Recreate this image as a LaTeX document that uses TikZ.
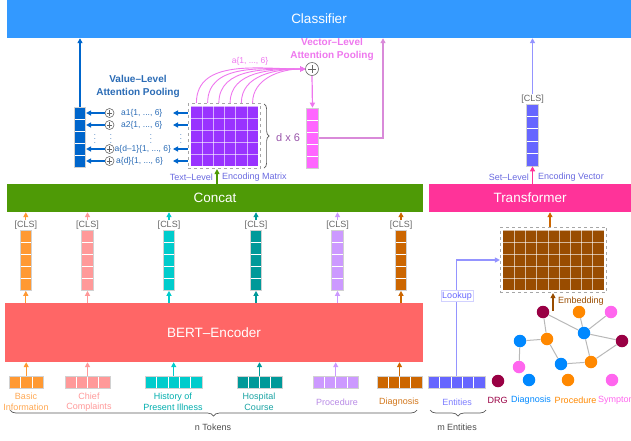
\documentclass[tikz,border=0pt]{standalone}
\usepackage{fontspec}
\setmainfont{Liberation Sans}
\usetikzlibrary{positioning,arrows.meta,calc,fit,decorations.pathreplacing}

\definecolor{clsblue}{HTML}{3399FF}
\definecolor{concatgreen}{HTML}{4E9A06}
\definecolor{transpink}{HTML}{FF3399}
\definecolor{bertred}{HTML}{FF6666}
\definecolor{basicor}{HTML}{FF9933}
\definecolor{chiefpk}{HTML}{FF9999}
\definecolor{histcy}{HTML}{00CCCC}
\definecolor{hospteal}{HTML}{009999}
\definecolor{proclil}{HTML}{CC99FF}
\definecolor{diagbr}{HTML}{CC6600}
\definecolor{entblue}{HTML}{6666FF}
\definecolor{valblue}{HTML}{0066CC}
\definecolor{valtext}{HTML}{2A6BB5}
\definecolor{matpurple}{HTML}{9933FF}
\definecolor{vecpink}{HTML}{FF66FF}
\definecolor{curvepink}{HTML}{EE77EE}
\definecolor{linkpink}{HTML}{D98AD9}
\definecolor{embbrown}{HTML}{994C00}
\definecolor{lvlblue}{HTML}{6A6AE0}
\definecolor{dxcol}{HTML}{9955AA}
\definecolor{drgred}{HTML}{990044}
\definecolor{gdiag}{HTML}{0088FF}
\definecolor{gproc}{HTML}{FF8800}
\definecolor{gsymp}{HTML}{FF66EE}

\newcommand{\smallfont}{\fontsize{9}{10.5}\selectfont}
\newcommand{\barfont}{\fontsize{13.5}{16}\selectfont}

\tikzset{
  bar/.style={inner sep=0, text=white, font=\barfont},
  vvec/.style={draw=black!18, line width=0.6pt, minimum width=11.5pt, minimum height=60pt, inner sep=0,
    path picture={\foreach \k in {1,...,4}
      \draw[white, line width=0.7pt] ($(path picture bounding box.south west)!{\k/5}!(path picture bounding box.north west)$) -- ++(20pt,0);}},
  hvec/.style={draw=black!18, line width=0.6pt, minimum width=#1*11.3pt, minimum height=12pt, inner sep=0,
    path picture={\foreach \k in {1,...,#1}
      \draw[white, line width=0.7pt] ($(path picture bounding box.south west)!{\k/#1}!(path picture bounding box.south east)$) -- ++(0,20pt);}},
  mgrid/.style 2 args={inner sep=0, path picture={
      \foreach \k in {1,...,#1}
        \draw[white, opacity=0.6, line width=0.6pt] ($(path picture bounding box.south west)!{\k/#1}!(path picture bounding box.south east)$) -- ++(0,100pt);
      \foreach \k in {1,...,#2}
        \draw[white, opacity=0.6, line width=0.6pt] ($(path picture bounding box.south west)!{\k/#2}!(path picture bounding box.north west)$) -- ++(200pt,0);}},
  dashbox/.style={draw=black!35, dashed, line width=0.8pt, inner sep=2.5pt},
  oplus/.style={circle, draw=black!60, line width=0.6pt, minimum size=#1, inner sep=0, fill=white,
    path picture={\draw[black!60, line width=0.6pt]
      ($(path picture bounding box.center)+(-0.3*#1,0)$) -- ++(0.6*#1,0)
      ($(path picture bounding box.center)+(0,-0.3*#1)$) -- ++(0,0.6*#1);}},
  cls/.style={font=\smallfont, text=black!60, inner sep=0.5pt},
  lbl/.style={font=\smallfont, align=center, inner sep=0},
  atext/.style={font=\fontsize{8.5}{10}\selectfont, text=valtext, inner sep=0},
  title/.style={font=\bfseries\fontsize{10}{13}\selectfont, align=center, inner sep=0},
  arr/.style={-{Triangle[length=5pt,width=5pt]}, line width=1.2pt},
  brc/.style={decorate, decoration={brace, amplitude=5pt}, draw=black!65, line width=0.7pt},
  brcm/.style={decorate, decoration={brace, mirror, amplitude=6pt}, draw=black!65, line width=0.7pt},
  gnode/.style={circle, fill=#1, minimum size=12.5pt, inner sep=0},
  gedge/.style={draw=black!28, line width=1pt}
}

\begin{document}
\begin{tikzpicture}[x=1pt,y=-1pt]
  \useasboundingbox (0,0) rectangle (631,440);

  % bars
  \node[bar, fill=clsblue, minimum width=624pt, minimum height=38pt] (classifier) at (319,19) {Classifier};
  \node[bar, fill=concatgreen, minimum width=416pt, minimum height=28pt] (concat) at (215,198) {Concat};
  \node[bar, fill=transpink, minimum width=202pt, minimum height=28pt] (transformer) at (530,198) {Transformer};
  \node[bar, fill=bertred, minimum width=418pt, minimum height=59pt] (bert) at (214,332.5) {BERT--Encoder};

  % text vectors
  \node[vvec, fill=basicor] (v1) at (25.8,260.5) {};
  \node[vvec, fill=chiefpk] (v2) at (87.5,260.5) {};
  \node[vvec, fill=histcy] (v3) at (169,260.5) {};
  \node[vvec, fill=hospteal] (v4) at (256,260.5) {};
  \node[vvec, fill=proclil] (v5) at (337.5,260.5) {};
  \node[vvec, fill=diagbr] (v6) at (401,260.5) {};

  \node[hvec=3, fill=basicor] (h1) at (26.2,382) {};
  \node[hvec=4, fill=chiefpk] (h2) at (87.5,382) {};
  \node[hvec=5, fill=histcy] (h3) at (173.7,382) {};
  \node[hvec=4, fill=hospteal] (h4) at (259.5,382) {};
  \node[hvec=4, fill=proclil] (h5) at (335.7,382) {};
  \node[hvec=4, fill=diagbr] (h6) at (399.5,382) {};
  \node[hvec=5, fill=entblue] (ent) at (456.7,382) {};

  \foreach \i/\c in {1/basicor,2/chiefpk,3/histcy,4/hospteal,5/proclil,6/diagbr} {
    \node[cls, above=0pt of v\i] (c\i) {[CLS]};
    \draw[arr, \c] (c\i.north) -- (c\i.north |- concat.south);
    \draw[arr, \c] (v\i.south |- bert.north) -- (v\i.south);
    \draw[arr, \c] (h\i.north) -- (h\i.north |- bert.south);
  }

  \node[lbl, text=basicor!85!white] (t1) at (26,402) {Basic\\Information};
  \node[lbl, text=chiefpk] (t2) at (89,402) {Chief\\Complaints};
  \node[lbl, text=histcy!85!black] (t3) at (173,402) {History of\\Present Illness};
  \node[lbl, text=hospteal!90!white] (t4) at (259,402) {Hospital\\Course};
  \node[lbl, text=proclil!90!black] (t5) at (337,402) {Procedure};
  \node[lbl, text=diagbr!90!white] (t6) at (399,402) {Diagnosis};
  \node[lbl, text=entblue!85!white] (t7) at (457,402) {Entities};

  % braces
  \coordinate (nl) at (10,410);
  \coordinate (nr) at (417,410);
  \draw[brcm] (nl) -- (nr);
  \node[lbl, text=black!70] (ntok) at (213,427) {n Tokens};
  \coordinate (ml) at (430,410);
  \coordinate (mr) at (486,410);
  \draw[brcm] (ml) -- (mr);
  \node[lbl, text=black!70] (ment) at (457,427) {m Entities};

  % value-level attention pooling
  \node[vvec, fill=valblue] (val) at (80,137) {};
  \draw[arr, valblue] (val.north) -- (val.north |- classifier.south);
  \node[title, text=valtext] (vtitle) at (138,86.5) {Value--Level\\Attention Pooling};

  \node[mgrid={6}{5}, fill=matpurple, minimum width=67pt, minimum height=60pt] (pmat) at (224.5,136) {};
  \node[dashbox, fit=(pmat)] (pbox) {};

  \foreach \i/\y in {1/113,2/125,4/149,5/161} {
    \node[oplus=9pt] (p\i) at (109.5,\y) {};
    \coordinate (q\i) at (173,\y);
    \draw[arr, valblue] (p\i.west) -- (p\i.west -| val.east);
    \draw[arr, valblue] (pbox.west |- q\i) -- (q\i);
  }
  \node[atext, anchor=west] (a1) at (121,113) {a1\{1, ..., 6\}};
  \node[atext, anchor=west] (a2) at (121,125) {a2\{1, ..., 6\}};
  \node[atext, anchor=west] (a4) at (114.5,149) {a\{d--1\}\{1, ..., 6\}};
  \node[atext, anchor=west] (a5) at (116,161) {a\{d\}\{1, ..., 6\}};
  \foreach \x [count=\n] in {95,111,151,181}
    \node[atext, font=\fontsize{7.5}{7.5}\selectfont] (dot\n) at (\x,136) {$\vdots$};

  \coordinate (db1) at ($(pbox.north east)+(3,1)$);
  \coordinate (db2) at ($(pbox.south east)+(3,-1)$);
  \draw[brc] (db1) -- (db2);
  \node[font=\fontsize{11}{13}\selectfont, text=dxcol, anchor=west, inner sep=0] (dx) at (276,138) {d x 6};

  \draw[arr, concatgreen] (concat.north -| 217,0) -- (pbox.south -| 217,0);
  \node[lbl, text=lvlblue, anchor=east] (tl) at (213,177) {Text--Level};
  \node[lbl, text=lvlblue, anchor=west] (em) at (222,177) {Encoding Matrix};

  % vector-level attention pooling
  \node[oplus=13pt] (vp) at (312,69) {};
  \node[vvec, fill=vecpink] (pv) at (312.5,138) {};
  \node[title, text=curvepink] (vltitle) at (332,49.5) {Vector--Level\\Attention Pooling};
  \node[atext, text=curvepink] (alab) at (250,61) {a\{1, ..., 6\}};
  \foreach \k in {1,...,6} {
    \coordinate (col\k) at ($(pmat.north west)!{(\k-0.5)/6}!(pmat.north east)$);
    \draw[arr, curvepink, line width=0.9pt] (col\k |- pbox.north) to[out=90,in=180] (vp.west);
  }
  \draw[arr, curvepink] (vp.south) -- (pv.north);
  \coordinate (vturn) at (383,138);
  \draw[arr, linkpink] (pv.east) -- (vturn) -- (vturn |- classifier.south);

  % set-level
  \node[vvec, fill=entblue, minimum height=62pt] (sv) at (532.5,135) {};
  \node[cls, above=0pt of sv] (scls) {[CLS]};
  \draw[arr, entblue!70] (scls.north) -- (scls.north |- classifier.south);
  \draw[arr, transpink] (transformer.north -| sv.south) -- (sv.south);
  \node[lbl, text=lvlblue, anchor=east] (sl) at (529,177) {Set--Level};
  \node[lbl, text=lvlblue, anchor=west] (ev) at (538,177) {Encoding Vector};

  % entity embedding
  \node[mgrid={9}{5}, fill=embbrown, minimum width=101pt, minimum height=60pt] (emat) at (553.5,260) {};
  \node[dashbox, fit=(emat)] (ebox) {};
  \draw[arr, diagbr] (ebox.north -| 550,0) -- (transformer.south -| 550,0);
  \coordinate (gtop) at (553,311);
  \draw[arr, embbrown] (gtop) -- (gtop |- ebox.south);
  \node[lbl, text=embbrown, anchor=west] (emblab) at (558,301) {Embedding};

  \draw[arr, entblue!70] (ent.north) |- (ebox.west);
  \node[draw=entblue!30, fill=white, text=entblue, font=\smallfont, inner sep=1.2pt] (lookup) at (457,296) {Lookup};

  % graph
  \node[gnode=drgred] (g1) at (543,312) {};
  \node[gnode=gproc] (g2) at (579,312) {};
  \node[gnode=gsymp] (g3) at (611,312) {};
  \node[gnode=gdiag] (g4) at (584,333) {};
  \node[gnode=gdiag] (g5) at (520,341) {};
  \node[gnode=gproc] (g6) at (547,339) {};
  \node[gnode=drgred] (g7) at (622,341) {};
  \node[gnode=gsymp] (g8) at (519,367) {};
  \node[gnode=gdiag] (g9) at (561,364) {};
  \node[gnode=gproc] (g10) at (591,362) {};
  \foreach \a/\b in {g1/g4,g1/g6,g2/g4,g3/g4,g4/g7,g4/g10,g7/g10,g5/g6,g5/g8,g6/g9,g9/g10}
    \draw[gedge] (\a) -- (\b);

  \node[gnode=drgred] (k1) at (498,381) {};
  \node[gnode=gdiag] (k2) at (529,380) {};
  \node[gnode=gproc] (k3) at (568,380) {};
  \node[gnode=gsymp] (k4) at (612,380) {};
  \node[lbl, text=drgred] (kl1) at (497.5,400) {DRG};
  \node[lbl, text=gdiag] (kl2) at (531,400) {Diagnosis};
  \node[lbl, text=gproc] (kl3) at (575.5,400) {Procedure};
  \node[lbl, text=gsymp, anchor=west] (kl4) at (598,400) {Symptom};
\end{tikzpicture}
\end{document}
